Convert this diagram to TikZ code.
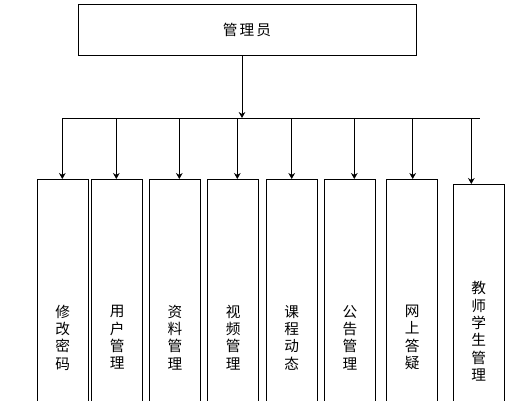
\documentclass[tikz,border=0pt]{standalone}
\usepackage{fontspec}
\newfontfamily\cjk{Noto Sans CJK SC}
\usetikzlibrary{arrows.meta}
\begin{document}
\begin{tikzpicture}[x=0.75pt,y=-0.75pt,
  topbox/.style={rectangle,draw,line width=0.75pt,minimum width=253.5pt,minimum height=38.25pt,font=\cjk\fontsize{11pt}{13pt}\selectfont},
  modbox/.style={rectangle,draw,line width=0.75pt,anchor=north,minimum width=38pt,minimum height=237pt,align=center,text width=12pt,inner sep=0pt,font=\cjk\fontsize{11pt}{13pt}\selectfont},
  bus/.style={line width=0.75pt},
  link/.style={line width=0.75pt,-{Stealth[length=4.5pt,width=5pt]}}]
\clip (0,0) rectangle (513,400);
\useasboundingbox (0,0) rectangle (513,400);
\node at (247,29.5) [topbox] (admin) {管\hspace{1.6pt}理\hspace{1.6pt}员};
%
\node at (62.8,179) [modbox] (m1) {修\\改\\密\\码};
\node at (117.2,179) [modbox] (m2) {用\\户\\管\\理};
\node at (175,179) [modbox] (m3) {资\\料\\管\\理};
\node at (233.3,179) [modbox] (m4) {视\\频\\管\\理};
\node at (291.8,179) [modbox] (m5) {课\\程\\动\\态};
\node at (350,179) [modbox] (m6) {公\\告\\管\\理};
\node at (412.2,179) [modbox] (m7) {网\\上\\答\\疑};
\node at (478.8,184) [modbox,minimum height=220.5pt] (m8) {教\\师\\学\\生\\管\\理};
%
\coordinate (hub) at (242,118);
\coordinate (b1) at (62.3,118);
\coordinate (b2) at (116.3,118);
\coordinate (b3) at (179.3,118);
\coordinate (b4) at (237.3,118);
\coordinate (b5) at (291.7,118);
\coordinate (b6) at (354.3,118);
\coordinate (b7) at (412.7,118);
\coordinate (b8) at (471.3,118);
\coordinate (busend) at (480,118);
%
\draw[link] (admin.south -| hub) -- (hub);
\draw[bus] (b1) -- (busend);
%
\draw[link] (b1) -- (b1 |- m1.north);
\draw[link] (b2) -- (b2 |- m2.north);
\draw[link] (b3) -- (b3 |- m3.north);
\draw[link] (b4) -- (b4 |- m4.north);
\draw[link] (b5) -- (b5 |- m5.north);
\draw[link] (b6) -- (b6 |- m6.north);
\draw[link] (b7) -- (b7 |- m7.north);
\draw[link] (b8) -- (b8 |- m8.north);
\end{tikzpicture}
\end{document}
